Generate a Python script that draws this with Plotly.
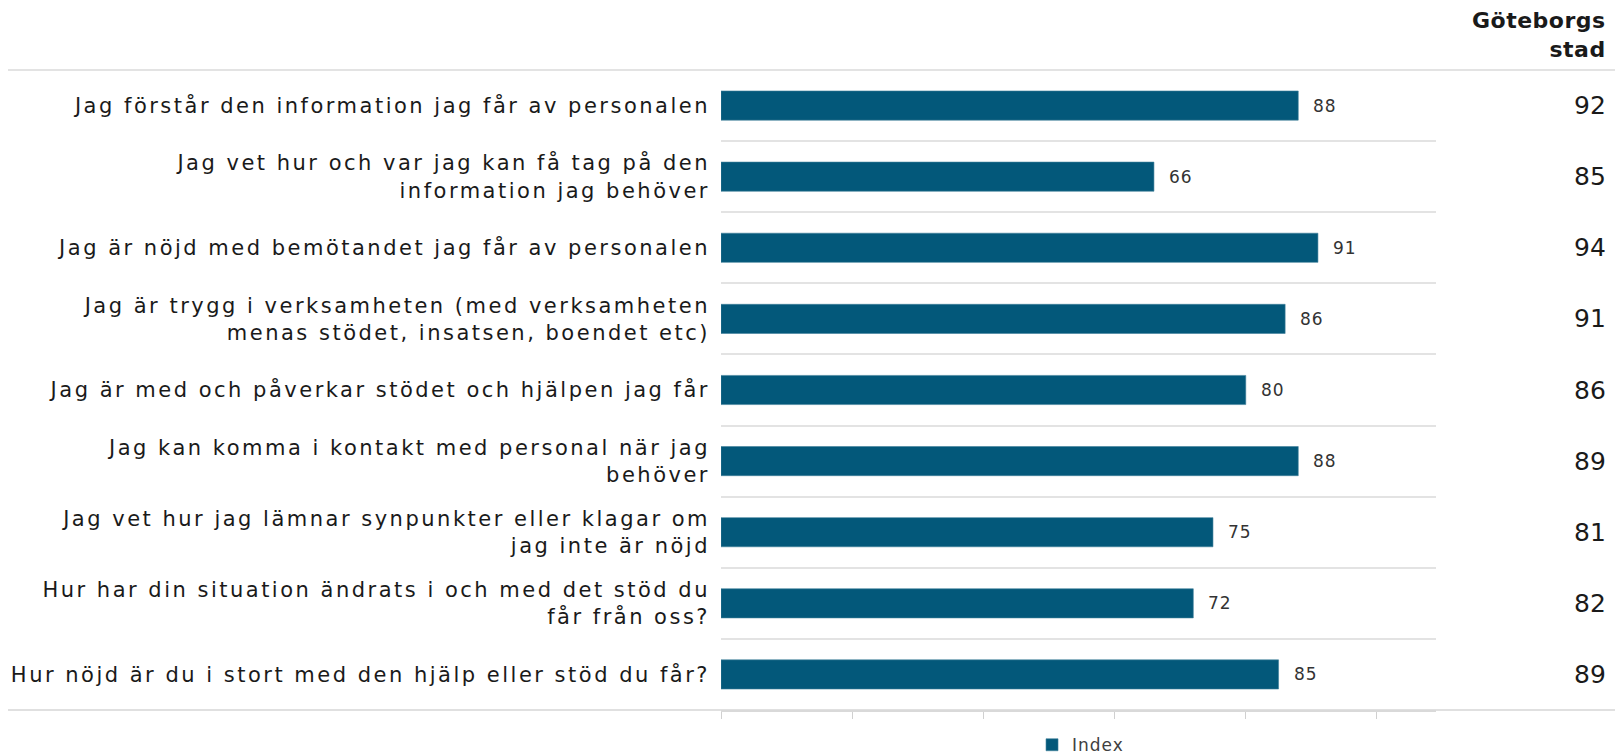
import plotly.graph_objects as go

categories = [
    "Jag förstår den information jag får av personalen",
    "Jag vet hur och var jag kan få tag på den<br>information jag behöver",
    "Jag är nöjd med bemötandet jag får av personalen",
    "Jag är trygg i verksamheten (med verksamheten<br>menas stödet, insatsen, boendet etc)",
    "Jag är med och påverkar stödet och hjälpen jag får",
    "Jag kan komma i kontakt med personal när jag<br>behöver",
    "Jag vet hur jag lämnar synpunkter eller klagar om<br>jag inte är nöjd",
    "Hur har din situation ändrats i och med det stöd du<br>får från oss?",
    "Hur nöjd är du i stort med den hjälp eller stöd du får?",
]
index_values = [88, 66, 91, 86, 80, 88, 75, 72, 85]
goteborg_values = [92, 85, 94, 91, 86, 89, 81, 82, 89]
series_name = "Index"
column_header = "Göteborgs<br>stad"
x_ticks = [0, 20, 40, 60, 80, 100]

BAR = "#03587a"
FONT = "DejaVu Sans"
TEXT = "#1a1a1a"


def spaced(s, px):
    return "<br>".join(f'<span style="letter-spacing:{px}px">{part}</span>' for part in s.split("<br>"))


fig = go.Figure()
fig.add_trace(go.Bar(
    y=categories, x=index_values, orientation="h", name=spaced(series_name, 1),
    marker=dict(color=BAR, line=dict(color="#3f7f9b", width=0.6)),
    showlegend=True,
))

# data labels
for c, v in zip(categories, index_values):
    fig.add_annotation(x=v, y=c, xref="x", yref="y", text=spaced(str(v), 1),
                       showarrow=False, xanchor="left", yanchor="middle", xshift=13,
                       font=dict(family=FONT, size=17, color="#333333"))

# right column values
for c, v in zip(categories, goteborg_values):
    fig.add_annotation(x=1.2406, y=c, xref="paper", yref="y", text=str(v),
                       showarrow=False, xanchor="right", yanchor="middle",
                       font=dict(family=FONT, size=25, color=TEXT))

fig.add_annotation(x=1.2406, y=1.0095, xref="paper", yref="paper",
                   text=spaced(column_header, 0.5),
                   showarrow=False, xanchor="right", yanchor="bottom", align="right",
                   font=dict(family=FONT, size=22, color=TEXT, weight="bold"))

# top and bottom rules spanning the table
fig.add_shape(type="line", xref="paper", yref="paper", x0=-0.9972, x1=1.2615, y0=1, y1=1,
              line=dict(color="#e3e3e3", width=2))
fig.add_shape(type="line", xref="paper", yref="paper", x0=-0.9972, x1=1.2615, y0=0, y1=0,
              line=dict(color="#e0e0e0", width=2), layer="below")

fig.update_layout(
    width=1623, height=756,
    margin=dict(l=713, r=195, t=62, b=54, autoexpand=False),
    paper_bgcolor="white", plot_bgcolor="white",
    bargap=0.59,
    font=dict(family=FONT, color=TEXT),
    legend=dict(orientation="h", x=0.4350, xanchor="left", y=-0.055, yanchor="middle",
                font=dict(family=FONT, size=17, color="#404040"), itemwidth=30),
)
fig.update_xaxes(range=[0, 109], tickvals=x_ticks, showticklabels=False,
                 ticks="outside", ticklen=7, tickcolor="#d0d0d0", tickwidth=1,
                 showgrid=False, zeroline=False, showline=True, linecolor="#d9d9d9", linewidth=2,
                 automargin=False)
fig.update_yaxes(range=[8.5, -0.5], type="category", tickson="boundaries", showgrid=True,
                 gridcolor="#e3e3e3", gridwidth=2, ticks="", ticklabelstandoff=10,
                 tickvals=categories, ticktext=[spaced(c, 2.5) for c in categories],
                 tickfont=dict(family=FONT, size=21, color=TEXT), showline=False, zeroline=False,
                 automargin=False)

fig.write_html("out.html")
